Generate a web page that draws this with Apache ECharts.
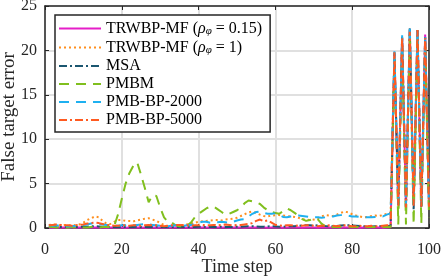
<!DOCTYPE html>
<html><head><meta charset="utf-8">
<script src="https://cdn.jsdelivr.net/npm/echarts@6/dist/echarts.min.js"></script>
<style>html,body{margin:0;padding:0;background:#fff}#c{width:443px;height:276px}</style>
</head><body><div id="c"></div>
<script>
const steps = [1,2,3,4,5,6,7,8,9,10,11,12,13,14,15,16,17,18,19,20,21,22,23,24,25,26,27,28,29,30,31,32,33,34,35,36,37,38,39,40,41,42,43,44,45,46,47,48,49,50,51,52,53,54,55,56,57,58,59,60,61,62,63,64,65,66,67,68,69,70,71,72,73,74,75,76,77,78,79,80,81,82,83,84,85,86,87,88,89,90,91,92,93,94,95,96,97,98,99,100];
const xTicks = [0,20,40,60,80,100];
const yTicks = [0,5,10,15,20,25];
const seriesNames = ['TRWBP-MF (ρφ = 0.15)','TRWBP-MF (ρφ = 1)','MSA','PMBM','PMB-BP-2000','PMB-BP-5000'];
const legendLabels = ['{t|TRWBP-MF (}{r|ρ}{s|φ}{t| = 0.15)}','{t|TRWBP-MF (}{r|ρ}{s|φ}{t| = 1)}','{t|MSA}','{t|PMBM}','{t|PMB-BP-2000}','{t|PMB-BP-5000}'];

const trwbp015 = [0.05,0.04,0.05,0.06,0.05,0.04,0.05,0.05,0.06,0.05,
0.05,0.06,0.07,0.06,0.05,0.04,0.05,0.06,0.05,0.05,
0.04,0.05,0.05,0.06,0.05,0.04,0.05,0.05,0.04,0.05,
0.05,0.04,0.05,0.05,0.06,0.05,0.04,0.05,0.05,0.06,
0.05,0.05,0.04,0.05,0.05,0.06,0.05,0.04,0.05,0.05,
0.05,0.04,0.05,0.05,0.06,0.05,0.05,0.04,0.05,0.05,
0.05,0.04,0.05,0.06,0.05,0.05,0.04,0.05,0.05,0.05,
0.04,0.05,0.05,0.06,0.05,0.05,0.04,0.05,0.05,0.05,
0.05,0.04,0.05,0.05,0.06,0.05,0.05,0.04,0.05,0.08,
19.6,2.6,21.4,2.3,22.3,2.6,22.2,2.4,21.8,2.8];

const trwbp1 = [0.35,0.4,0.35,0.3,0.35,0.3,0.3,0.35,0.4,0.6,
0.9,1.1,1.3,1.2,0.8,0.5,0.45,0.7,0.9,0.9,
0.8,0.8,0.75,0.85,0.95,1.05,1.1,0.95,0.8,0.55,
0.35,0.2,0.25,0.3,0.35,0.35,0.4,0.5,0.6,0.7,
0.75,0.8,0.85,0.9,0.9,0.85,0.95,1.0,1.05,1.15,
1.35,1.55,1.75,1.85,1.7,1.5,1.35,1.3,1.4,1.45,
1.45,1.4,1.35,1.3,1.25,1.15,1.0,0.95,0.9,0.95,
1.1,1.3,1.45,1.4,1.35,1.5,1.7,1.85,1.75,1.55,
1.4,1.3,1.2,1.25,1.35,1.4,1.35,1.45,1.6,1.75,
19.7,2.8,21.5,2.5,22.4,2.8,22.3,2.6,21.6,2.5];

const msa = [0.12,0.1,0.1,0.12,0.1,0.1,0.08,0.1,0.12,0.15,
0.15,0.18,0.2,0.18,0.15,0.12,0.1,0.1,0.12,0.12,
0.1,0.1,0.12,0.14,0.12,0.1,0.1,0.12,0.14,0.12,
0.1,0.08,0.1,0.1,0.12,0.12,0.1,0.1,0.12,0.15,
0.15,0.12,0.12,0.1,0.12,0.14,0.12,0.1,0.12,0.15,
0.15,0.18,0.2,0.2,0.18,0.15,0.15,0.18,0.2,0.18,
0.15,0.15,0.18,0.2,0.2,0.25,0.3,0.32,0.3,0.28,
0.3,0.25,0.22,0.2,0.2,0.22,0.28,0.3,0.32,0.28,
0.25,0.22,0.2,0.2,0.18,0.2,0.22,0.2,0.2,0.25,
19.8,2.4,21.6,2.3,22.5,2.0,22.3,2.4,21.5,2.3];

const pmbm = [0.1,0.1,0.05,0.1,0.05,0.05,0.1,0.05,0.1,0.05,
0.05,0.1,0.1,0.05,0.1,0.1,0.1,0.2,1.5,3.3,
5.0,6.2,7.0,7.4,6.0,4.5,2.9,3.7,3.6,2.3,
1.2,0.7,0.6,0.3,0.2,0.2,0.3,0.6,1.2,1.6,
1.9,2.2,2.4,2.4,2.1,1.8,1.5,1.6,1.8,2.0,
2.3,2.8,3.1,3.0,2.9,2.7,2.3,2.0,1.8,1.7,
1.6,1.9,2.2,2.0,1.7,1.4,1.0,0.8,0.9,1.1,
1.0,0.5,0.2,0.1,0.1,0.15,0.1,0.1,0.15,0.1,
0.1,0.1,0.15,0.1,0.1,0.1,0.15,0.1,0.1,0.1,
19.0,0.4,20.8,0.4,21.8,0.4,21.7,0.5,21.0,1.2];

const pmbbp2000 = [0.3,0.25,0.3,0.2,0.25,0.2,0.2,0.25,0.3,0.35,
0.4,0.5,0.55,0.5,0.4,0.35,0.3,0.3,0.25,0.3,
0.3,0.35,0.3,0.35,0.4,0.45,0.4,0.35,0.3,0.25,
0.2,0.2,0.25,0.3,0.3,0.25,0.3,0.35,0.4,0.6,
0.7,0.7,0.6,0.6,0.65,0.7,0.65,0.6,0.7,0.85,
0.95,1.0,1.3,1.6,1.8,1.85,1.7,1.6,1.6,1.65,
1.5,1.25,1.2,1.3,1.35,1.4,1.35,1.3,1.25,1.2,
1.2,1.15,1.2,1.25,1.3,1.4,1.45,1.5,1.4,1.3,
1.3,1.25,1.2,1.2,1.2,1.25,1.3,1.3,1.5,1.65,
19.9,2.6,21.7,2.4,22.8,2.6,22.4,2.5,21.5,2.5];

const pmbbp5000 = [0.3,0.35,0.4,0.35,0.3,0.3,0.25,0.3,0.35,0.4,
0.5,0.55,0.6,0.55,0.45,0.35,0.3,0.25,0.25,0.3,
0.3,0.25,0.3,0.3,0.25,0.3,0.35,0.3,0.3,0.25,
0.2,0.25,0.3,0.35,0.35,0.3,0.3,0.25,0.3,0.3,
0.35,0.3,0.3,0.35,0.3,0.35,0.4,0.35,0.3,0.35,
0.35,0.4,0.45,0.55,0.8,0.95,0.75,0.85,0.6,0.35,
0.3,0.25,0.3,0.3,0.25,0.3,0.25,0.3,0.3,0.25,
0.2,0.25,0.25,0.3,0.25,0.2,0.25,0.3,0.25,0.2,
0.2,0.25,0.2,0.2,0.25,0.2,0.2,0.25,0.3,0.35,
19.8,2.5,21.5,2.3,22.1,2.5,22.3,2.4,21.4,2.4];

const allValues = [trwbp015, trwbp1, msa, pmbm, pmbbp2000, pmbbp5000];
const colors = ['#e51ec8','#ff8f1f','#1b5670','#80bf1e','#1eb0f0','#ff5a20'];
const dashTypes = ['solid',[2,3],[8,3,2,3],[10,7],[10,7],[8,3,2,3]];

const FONT = 'Liberation Serif';
const chart = echarts.init(document.getElementById('c'));
const series = allValues.map((vals, i) => ({
  name: seriesNames[i],
  type: 'line',
  xAxisIndex: 0, yAxisIndex: 0,
  data: steps.map((s, k) => [s, vals[k]]),
  symbol: 'none',
  showSymbol: false,
  clip: true,
  lineStyle: {color: colors[i], width: 2, type: dashTypes[i]},
  itemStyle: {color: colors[i]},
  z: 2 + i
}));

const axisCommonX = {type:'value', min:0, max:100, interval:20};
const axisCommonY = {type:'value', min:0, max:25, interval:5};
chart.setOption({
  animation: false,
  backgroundColor: '#fff',
  grid: {left:45, right:14, top:6, bottom:48, containLabel:false, outerBoundsMode:'none'},
  xAxis: [
    Object.assign({}, axisCommonX, {
      position:'bottom',
      name:'Time step', nameLocation:'middle', nameGap:30, nameMoveOverlap:false,
      nameTextStyle:{fontFamily:FONT, fontSize:18, color:'#262626'},
      axisLine:{show:true, onZero:false, lineStyle:{color:'#262626', width:1.5}},
      axisTick:{show:true, inside:true, length:4, lineStyle:{color:'#262626', width:1}},
      axisLabel:{fontFamily:FONT, fontSize:16, color:'#262626', margin:14},
      splitLine:{show:true, lineStyle:{color:'#e0e0e0', width:2}}
    }),
    Object.assign({}, axisCommonX, {
      position:'top',
      axisLine:{show:true, onZero:false, lineStyle:{color:'#262626', width:1.5}},
      axisTick:{show:true, inside:true, length:4, lineStyle:{color:'#262626', width:1}},
      axisLabel:{show:false}, splitLine:{show:false}
    })
  ],
  yAxis: [
    Object.assign({}, axisCommonY, {
      position:'left',
      name:'False target error', nameLocation:'middle', nameGap:26, nameMoveOverlap:false,
      nameTextStyle:{fontFamily:FONT, fontSize:19, color:'#262626'},
      axisLine:{show:true, onZero:false, lineStyle:{color:'#262626', width:1.5}},
      axisTick:{show:true, inside:true, length:4, lineStyle:{color:'#262626', width:1}},
      axisLabel:{fontFamily:FONT, fontSize:16, color:'#262626', margin:8},
      splitLine:{show:true, lineStyle:{color:'#e0e0e0', width:2}}
    }),
    Object.assign({}, axisCommonY, {
      position:'right',
      axisLine:{show:true, onZero:false, lineStyle:{color:'#262626', width:1.5}},
      axisTick:{show:true, inside:true, length:4, lineStyle:{color:'#262626', width:1}},
      axisLabel:{show:false}, splitLine:{show:false}
    })
  ],
  legend: {
    orient:'vertical', left:55, top:15,
    data: seriesNames,
    itemWidth:42, itemHeight:10, itemGap:2,
    padding:[5,8,4,3],
    backgroundColor:'#fff', borderColor:'#262626', borderWidth:1.5, borderRadius:0,
    formatter: name => legendLabels[seriesNames.indexOf(name)],
    textStyle:{fontFamily:FONT, fontSize:16, color:'#000', lineHeight:16,
      rich:{
        t:{fontFamily:FONT, fontSize:16, color:'#000', lineHeight:16},
        r:{fontFamily:FONT, fontSize:16, fontStyle:'italic', color:'#000', lineHeight:16},
        s:{fontFamily:FONT, fontSize:11, fontStyle:'italic', color:'#000', padding:[6,0,0,0], lineHeight:16}
      }
    },
    itemStyle:{opacity:0}
  },
  series: series
});
</script></body></html>
